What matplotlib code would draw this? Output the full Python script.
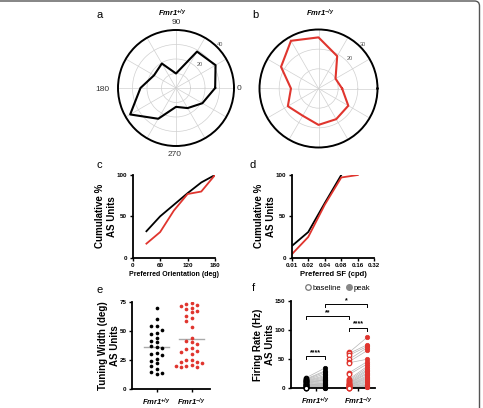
import matplotlib.pyplot as plt
import numpy as np
from matplotlib.lines import Line2D
from matplotlib.patches import FancyBboxPatch
from matplotlib.transforms import IdentityTransform

plt.rcParams['font.family'] = ['Liberation Sans', 'DejaVu Sans']
plt.rcParams['mathtext.fontset'] = 'custom'
plt.rcParams['mathtext.rm'] = 'Liberation Sans:bold:italic'
plt.rcParams['mathtext.it'] = 'Liberation Sans:bold:italic'
plt.rcParams['mathtext.bf'] = 'Liberation Sans:bold:italic'

RED = '#e0352e'
WT = r'$Fmr1^{+/y}$'
KO = r'$Fmr1^{-/y}$'

# a, b: polar tuning
angles_deg = [0, 30, 60, 90, 120, 150, 180, 210, 240, 270, 300, 330]
wt_polar = [27, 31.5, 29, 10, 19.5, 17.5, 24.5, 36.5, 24.5, 13, 16, 21]
ko_polar = [12, 10, 19, 26, 28, 22, 14, 18, 16, 18.5, 18, 17.5]

# c: cumulative preferred orientation
orient = [30, 60, 90, 120, 150, 180]
wt_cum_orient = [32, 50, 64, 78, 91, 100]
ko_cum_orient = [17, 31, 57, 77, 80, 100]

# d: cumulative preferred SF
sf_ticks = [0.01, 0.02, 0.04, 0.08, 0.16, 0.32]
sf_wt = [0.01, 0.02, 0.04, 0.08]
wt_cum_sf = [14, 31, 66, 100]
sf_ko = [0.01, 0.02, 0.04, 0.08, 0.16]
ko_cum_sf = [4, 25, 64, 97, 100]

# e: tuning width
wt_width = [70, 60.5, 54, 54, 51, 48, 47, 44, 41, 40, 37, 36, 35, 31, 30, 29,
            26, 24, 22, 20, 17, 15, 14, 13]
ko_width = [74, 73, 72, 71, 70, 69, 67, 66, 63, 61, 58, 53, 44, 41, 40, 39,
            35, 34, 33, 32, 30, 25, 25, 23, 23, 22, 21, 20, 20, 19, 19]

# f: firing rate baseline vs peak
wt_base = [18, 16, 15, 14, 13, 12, 11, 10, 9, 8, 7, 6, 5, 5, 4, 3, 3, 2, 2, 1, 1, 0]
wt_peak = [35, 30, 28, 25, 22, 20, 18, 16, 15, 14, 12, 10, 9, 8, 7, 6, 5, 4, 3, 2, 1, 0]
ko_base = [62, 60, 57, 50, 46, 44, 27, 24, 16, 14, 12, 10, 9, 8, 7, 6,
           5, 5, 4, 3, 3, 2, 2, 1, 1, 0, 0]
ko_peak = [88, 75, 72, 70, 65, 50, 46, 42, 38, 35, 32, 30, 27, 25, 22, 20,
           18, 16, 14, 12, 10, 8, 6, 5, 4, 3, 2]

W, H = 483, 408
fig = plt.figure(figsize=(W / 100, H / 100), dpi=100)


def box(l, t, r, b):
    return [l / W, 1 - b / H, (r - l) / W, (b - t) / H]


def polar_panel(rect, vals, color, rmax, rticks, rlabels):
    ax = fig.add_axes(rect, projection='polar')
    th = np.deg2rad(angles_deg + [angles_deg[0]])
    ax.plot(th, list(vals) + [vals[0]], color=color, lw=1.5, zorder=3)
    ax.set_rlim(0, rmax)
    ax.set_rgrids(rticks, labels=rlabels, angle=45, fontsize=4, color='#555555')
    ax.set_thetagrids(range(0, 360, 30), labels=[''] * 12)
    ax.grid(color='#d0d0d0', lw=0.5)
    ax.spines['polar'].set_linewidth(1.4)
    return ax


axa = polar_panel(box(118, 30, 234, 146), wt_polar, 'black', 40,
                  [10, 20, 30, 40], ['', '20', '', '40'])
axb = polar_panel(box(259.5, 29.5, 377.5, 147.5), ko_polar, RED, 30,
                  [10, 20, 30], ['', '20', '30'])
for lab, x, y in [('90', 176, 22), ('0', 239, 89), ('180', 102, 89.5), ('270', 174.5, 155)]:
    fig.text(x / W, 1 - y / H, lab, fontsize=6, color='#333333', ha='center', va='center')
fig.text(172 / W, 1 - 13 / H, WT, fontsize=5.5, ha='center', va='center')
fig.text(320 / W, 1 - 13 / H, KO, fontsize=5.5, ha='center', va='center')


def style(ax):
    for s in ['top', 'right']:
        ax.spines[s].set_visible(False)
    for s in ['left', 'bottom']:
        ax.spines[s].set_linewidth(1.3)
    ax.tick_params(width=1, length=2.5, labelsize=4.5, pad=1.5)
    ax.minorticks_off()


def boldticks(ax):
    for lab in ax.get_xticklabels() + ax.get_yticklabels():
        lab.set_fontweight('bold')


# c
axc = fig.add_axes(box(132.7, 175, 215, 257.7))
axc.plot(orient, wt_cum_orient, color='black', lw=1.3)
axc.plot(orient, ko_cum_orient, color=RED, lw=1.3)
axc.set_xlim(0, 180)
axc.set_ylim(0, 100)
axc.set_xticks([0, 60, 120, 180])
axc.set_yticks([0, 50, 100])
style(axc)
boldticks(axc)
axc.set_xlabel('Preferred Orientation (deg)', fontsize=5, fontweight='bold', labelpad=2)
axc.set_ylabel('Cumulative %\nAS Units', fontsize=7, fontweight='bold', labelpad=0)

# d
axd = fig.add_axes(box(291.7, 175, 374.3, 257.7))
axd.plot(sf_wt, wt_cum_sf, color='black', lw=1.3)
axd.plot(sf_ko, ko_cum_sf, color=RED, lw=1.3)
axd.set_xscale('log', base=2)
axd.set_xlim(0.01, 0.32)
axd.set_ylim(0, 100)
axd.set_xticks(sf_ticks)
axd.set_xticklabels([f'{v:.2f}' for v in sf_ticks])
axd.set_yticks([0, 50, 100])
style(axd)
boldticks(axd)
axd.set_xlabel('Preferred SF (cpd)', fontsize=5.5, fontweight='bold', labelpad=2)
axd.set_ylabel('Cumulative %\nAS Units', fontsize=7, fontweight='bold', labelpad=0)


# e
def swarm_x(vals, center, px_x, px_y, diam, step):
    placed = []
    xs = np.zeros(len(vals))
    order = np.argsort(vals)[::-1]
    for i in order:
        for k in [0, -1, 1, -2, 2, -3, 3]:
            x = center + k * step
            ok = all(((x - px) * px_x) ** 2 + ((vals[i] - py) * px_y) ** 2 >= diam ** 2
                     for px, py in placed)
            if ok:
                break
        placed.append((x, vals[i]))
        xs[i] = x
    return xs


axe = fig.add_axes(box(132.3, 301.7, 210, 389))
px_x_e = 35.0
px_y_e = 87.3 / 75
for pos, vals, col in [(0, wt_width, 'black'), (1, ko_width, RED)]:
    xs = swarm_x(vals, pos, px_x_e, px_y_e, 4.6, 5.3 / px_x_e)
    axe.scatter(xs, vals, s=7, color=col, zorder=3, linewidths=0)
    m = np.mean(vals)
    axe.plot([pos - 0.36, pos + 0.36], [m, m], color='#aaaaaa', lw=1, zorder=2)
axe.set_xlim(-0.697, 1.523)
axe.set_ylim(0, 75)
axe.set_yticks([0, 25, 50, 75])
axe.set_xticks([0, 1])
axe.set_xticklabels([WT, KO], fontsize=5.5)
style(axe)
for lab in axe.get_yticklabels():
    lab.set_fontweight('bold')
axe.tick_params(axis='x', labelsize=5.5, pad=3)
axe.set_ylabel('Tuning Width (deg)\nAS Units', fontsize=7, fontweight='bold', labelpad=0)

# f
axf = fig.add_axes(box(290.7, 301, 375, 388.3))
pos_f = [(0.0, 1.0, wt_base, wt_peak, 'black'), (2.28, 3.23, ko_base, ko_peak, RED)]
for xb, xp, base, peak, col in pos_f:
    for b, p in zip(base, peak):
        axf.plot([xb, xp], [b, p], color='#b5b5b5', lw=0.5, zorder=1)
    axf.plot([xb] * len(base), base, ls='', marker='o', ms=3.2, mfc='white',
             mec=col, mew=0.9, zorder=3, clip_on=False)
    axf.plot([xp] * len(peak), peak, ls='', marker='o', ms=3.2, mfc=col,
             mec=col, mew=0.5, zorder=3, clip_on=False)
brackets = [(0.0, 1.0, 55, '****'), (2.28, 3.23, 104, '****'),
            (0.0, 2.28, 124, '**'), (1.0, 3.23, 144, '*')]
for x1, x2, y, star in brackets:
    axf.plot([x1, x1, x2, x2], [y - 5, y, y, y - 5], color='black', lw=0.7)
    axf.text((x1 + x2) / 2, y + 0.5, star, ha='center', va='bottom', fontsize=5,
             fontweight='bold')
axf.set_xlim(-0.805, 3.63)
axf.set_ylim(0, 150)
axf.set_yticks([0, 50, 100, 150])
axf.set_xticks([0.5, 2.755])
axf.set_xticklabels([WT, KO], fontsize=5.5)
style(axf)
for lab in axf.get_yticklabels():
    lab.set_fontweight('bold')
axf.tick_params(axis='x', labelsize=5.5, pad=3)
axf.set_ylabel('Firing Rate (Hz)\nAS Units', fontsize=7, fontweight='bold', labelpad=0)
handles = [Line2D([], [], ls='', marker='o', ms=4, mfc='white', mec='#777777', mew=0.9),
           Line2D([], [], ls='', marker='o', ms=4, mfc='#888888', mec='#888888')]
fig.legend(handles, ['baseline', 'peak'], loc='center', bbox_to_anchor=(337 / W, 1 - 288 / H),
           ncol=2, frameon=False, fontsize=5.5, handletextpad=0.1, columnspacing=0.6,
           handlelength=1, borderpad=0)

# panel letters
for letter, x, y in [('a', 100, 15), ('b', 255, 15), ('c', 99, 165), ('d', 253, 165),
                     ('e', 100, 290), ('f', 253, 288)]:
    fig.text(x / W, 1 - y / H, letter, fontsize=8, ha='center', va='center')

# outer frame (top and right edges visible)
fig.add_artist(FancyBboxPatch((-20, -20), 499.5, 427, boxstyle='round,pad=0,rounding_size=5',
                              transform=IdentityTransform(), fill=False,
                              edgecolor='#555555', lw=1))

fig.savefig('out.png', dpi=100)
